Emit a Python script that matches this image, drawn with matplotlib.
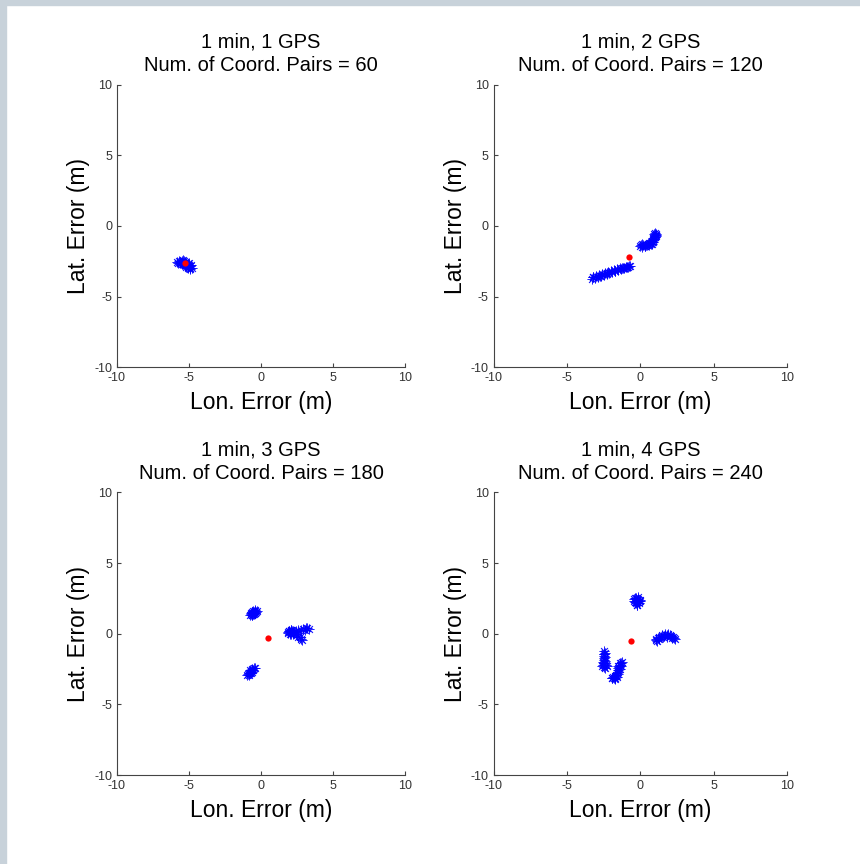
import matplotlib.pyplot as plt
from matplotlib.patches import Rectangle

plt.rcParams['font.family'] = ['Liberation Sans', 'DejaVu Sans']
plt.rcParams['axes.unicode_minus'] = False

# panel titles
titles = ["1 min, 1 GPS\nNum. of Coord. Pairs = 60",
          "1 min, 2 GPS\nNum. of Coord. Pairs = 120",
          "1 min, 3 GPS\nNum. of Coord. Pairs = 180",
          "1 min, 4 GPS\nNum. of Coord. Pairs = 240"]

# 1 GPS
p1_x = [-5.85, -5.75, -5.7, -5.6, -5.55, -5.5, -5.45, -5.4, -5.35, -5.3, -5.25, -5.2, -5.15, -5.1, -5.05,
        -5.0, -4.95, -4.9, -4.85, -4.8, -5.4, -5.3, -5.2, -5.1, -5.0, -4.9, -5.5, -5.6, -5.3, -5.05]
p1_y = [-2.55, -2.6, -2.5, -2.55, -2.65, -2.45, -2.6, -2.7, -2.5, -2.65, -2.75, -2.6, -2.8, -2.7, -2.9,
        -2.75, -2.95, -2.85, -2.8, -2.95, -2.4, -2.8, -2.9, -3.0, -2.65, -3.05, -2.7, -2.65, -2.55, -2.85]

# 2 GPS
p2_x = [-3.3, -3.2, -3.1, -3.0, -2.9, -2.8, -2.7, -2.6, -2.5, -2.4, -2.3, -2.2, -2.1, -2.0, -1.9, -1.8,
        -1.7, -1.6, -1.5, -1.4, -1.3, -1.2, -1.1, -1.0, -0.9, -0.8, -0.7, -3.25, -2.75, -2.25, -1.75,
        -1.25, -0.85,
        0.0, 0.08, 0.15, 0.22, 0.3, 0.38, 0.45, 0.52, 0.6, 0.65, 0.72, 0.78, 0.8, 0.85, 0.88, 0.9,
        0.95, 0.98, 1.0, 1.02, 1.05, 1.08, 1.0, 0.9, 0.1, 0.35, 0.6, 0.82, 0.95, 1.1]
p2_y = [-3.75, -3.62, -3.68, -3.55, -3.6, -3.49, -3.54, -3.42, -3.47, -3.35, -3.4, -3.29, -3.33, -3.22,
        -3.26, -3.15, -3.2, -3.08, -3.13, -3.01, -3.06, -2.95, -3.0, -2.88, -2.93, -2.81, -2.86, -3.62,
        -3.56, -3.3, -3.22, -2.96, -2.9,
        -1.45, -1.38, -1.48, -1.35, -1.42, -1.32, -1.38, -1.28, -1.33, -1.22, -1.28, -1.15, -1.05,
        -1.12, -0.95, -0.85, -0.9, -0.75, -0.8, -0.65, -0.7, -0.55, -0.5, -1.0, -1.3, -1.45, -1.2,
        -1.3, -0.6, -0.65]

# 3 GPS
p3_x = [-0.75, -0.7, -0.65, -0.6, -0.55, -0.5, -0.45, -0.4, -0.35, -0.3, -0.7, -0.6, -0.5, -0.4,
        -0.55, -0.65, -0.45,
        1.85, 1.9, 1.95, 2.0, 2.05, 2.1, 2.15, 2.2, 2.25, 2.0, 2.1, 2.3, 2.45, 2.6, 2.75, 2.9, 3.05,
        3.2, 3.3, 2.4, 2.5, 2.6, 2.7, 2.8, 2.85, 2.2, 1.95, 3.1,
        -0.95, -0.9, -0.85, -0.8, -0.75, -0.7, -0.65, -0.6, -0.55, -0.5, -0.45, -0.85, -0.7, -0.6,
        -0.75]
p3_y = [1.3, 1.4, 1.35, 1.5, 1.42, 1.55, 1.48, 1.6, 1.52, 1.62, 1.5, 1.3, 1.38, 1.45, 1.6, 1.55, 1.65,
        0.15, 0.05, 0.22, 0.1, 0.25, 0.0, 0.18, 0.08, 0.2, -0.02, 0.3, 0.12, 0.22, 0.28, 0.3, 0.35,
        0.3, 0.38, 0.32, -0.05, -0.1, -0.2, -0.25, -0.35, -0.42, -0.05, 0.2, 0.42,
        -2.95, -2.85, -2.9, -2.75, -2.8, -2.65, -2.7, -2.55, -2.6, -2.45, -2.4, -2.8, -2.75, -2.5,
        -2.6]

# 4 GPS
p4_x = [-0.45, -0.4, -0.35, -0.3, -0.25, -0.2, -0.15, -0.1, -0.05, 0.0, -0.3, -0.2, -0.1, -0.25,
        -0.35, -0.15,
        1.05, 1.1, 1.15, 1.2, 1.3, 1.4, 1.5, 1.6, 1.7, 1.8, 1.9, 2.0, 2.1, 2.2, 2.3, 2.35, 1.25, 1.55,
        1.85, 2.15,
        -2.45, -2.4, -2.5, -2.45, -2.4, -2.5, -2.45, -2.4, -2.5, -2.45, -2.55, -2.6, -2.35, -2.3,
        -2.5, -2.4, -2.45, -2.55,
        -1.25, -1.3, -1.35, -1.4, -1.3, -1.45, -1.5, -1.4, -1.55, -1.5, -1.6, -1.55, -1.65, -1.7,
        -1.6, -1.75, -1.8, -1.85, -1.9, -1.7, -1.95, -1.5]
p4_y = [2.35, 2.45, 2.25, 2.5, 2.4, 2.3, 2.45, 2.35, 2.3, 2.4, 2.15, 2.05, 2.2, 2.0, 2.55, 2.6,
        -0.45, -0.35, -0.5, -0.3, -0.25, -0.2, -0.12, -0.15, -0.05, -0.1, -0.02, -0.12, -0.18, -0.22,
        -0.3, -0.35, -0.4, -0.25, -0.2, -0.3,
        -1.25, -1.35, -1.45, -1.55, -1.65, -1.75, -1.85, -1.95, -2.05, -2.1, -2.2, -2.25, -2.2, -2.3,
        -2.35, -2.4, -1.4, -2.0,
        -2.0, -2.1, -2.05, -2.2, -2.3, -2.35, -2.45, -2.5, -2.6, -2.7, -2.75, -2.85, -2.9, -3.0,
        -3.05, -3.1, -3.15, -3.05, -3.1, -3.2, -3.15, -2.25]

# mean positions (red dots)
mean_x = [-5.28, -0.75, 0.51, -0.64]
mean_y = [-2.65, -2.17, -0.33, -0.54]

ticks = [-10, -5, 0, 5, 10]

fig = plt.figure(figsize=(8.6, 8.64), dpi=100)
fig.add_artist(Rectangle((0, 1 - 5 / 864), 1, 5 / 864, transform=fig.transFigure,
                         color='#c8d2da', zorder=0))
fig.add_artist(Rectangle((0, 0), 6 / 860, 1, transform=fig.transFigure,
                         color='#c8d2da', zorder=0))

boxes = [[0.136, 0.575, 0.335, 0.327], [0.574, 0.575, 0.341, 0.327],
         [0.136, 0.103, 0.335, 0.327], [0.574, 0.103, 0.341, 0.327]]
xs = [p1_x, p2_x, p3_x, p4_x]
ys = [p1_y, p2_y, p3_y, p4_y]

for i in range(4):
    ax = fig.add_axes(boxes[i])
    ax.plot(xs[i], ys[i], linestyle='none', marker=(8, 2, 0), markersize=7,
            markeredgewidth=0.6, color='blue', alpha=0.85)
    ax.plot(mean_x[i], mean_y[i], 'o', color='red', markersize=4.5, markeredgewidth=0)
    ax.set_xlim(-10, 10)
    ax.set_ylim(-10, 10)
    ax.set_xticks(ticks)
    ax.set_yticks(ticks)
    ax.spines['top'].set_visible(False)
    ax.spines['right'].set_visible(False)
    for s in ['left', 'bottom']:
        ax.spines[s].set_color('#444444')
        ax.spines[s].set_linewidth(0.8)
    ax.tick_params(direction='in', length=3, width=0.8, colors='#444444',
                   labelsize=9, labelcolor='#333333')
    ax.set_title(titles[i], fontsize=14.5, pad=10, linespacing=1.3)
    ax.set_xlabel("Lon. Error (m)", fontsize=16.5, labelpad=5)
    ax.set_ylabel("Lat. Error (m)", fontsize=16.5, labelpad=3)

fig.savefig("out.png", dpi=100)
